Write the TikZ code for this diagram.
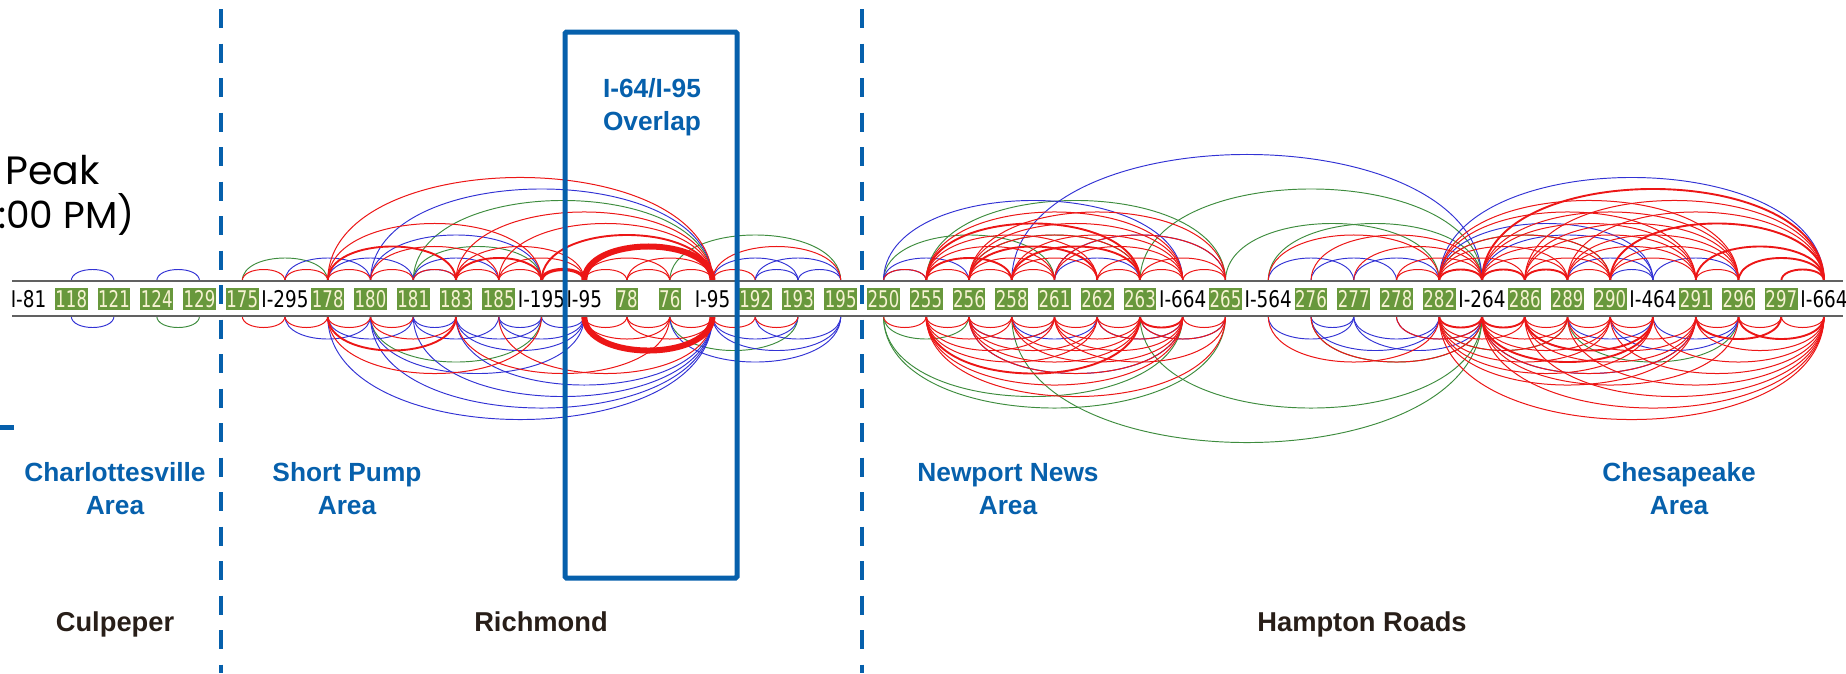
\documentclass[tikz,border=0pt]{standalone}
\usepackage{fontspec}
\setmainfont{Liberation Sans}
\newfontfamily\exitfont[FakeStretch=0.72]{DejaVu Sans}
\newfontfamily\roadfont[FakeStretch=0.8]{DejaVu Sans}
\newfontfamily\peakfont{Poppins}
\usetikzlibrary{positioning}

\definecolor{arcred}{RGB}{236,22,22}
\definecolor{arcblue}{RGB}{50,50,212}
\definecolor{arcgreen}{RGB}{62,140,62}
\definecolor{exitgreen}{RGB}{104,152,60}
\definecolor{exitcream}{RGB}{246,242,210}
\definecolor{dotblue}{RGB}{6,96,172}
\definecolor{citydark}{RGB}{40,30,24}

\begin{document}
\begin{tikzpicture}[x=1pt,y=1pt,
	arcup/.style={out=90,in=90,looseness=0.92},
	arcdn/.style={out=-90,in=-90,looseness=0.92},
	rdA/.style={draw=arcred,line width=1},
	rdB/.style={draw=arcred,line width=1.9},
	rdC/.style={draw=arcred,line width=3.2},
	rdD/.style={draw=arcred,line width=6},
	blA/.style={draw=arcblue,line width=0.95},
	grA/.style={draw=arcgreen,line width=0.95},
	exitlbl/.style={fill=exitgreen,text=exitcream,font=\exitfont\fontsize{23}{23}\selectfont,inner xsep=0.6,inner ysep=0,minimum height=22},
	roadlbl/.style={text=black,font=\roadfont\fontsize{23}{23}\selectfont,inner sep=0},
	bandline/.style={draw=black!62,line width=2.6},
	divider/.style={draw=dotblue,line width=4.5,dash pattern=on 19 off 15.5},
	arealbl/.style={text=dotblue,font=\bfseries\fontsize{26.3}{33}\selectfont,align=center,inner sep=0},
	citylbl/.style={text=citydark,font=\bfseries\fontsize{27.3}{27.3}\selectfont,inner sep=0},
	peaklbl/.style={font=\peakfont\fontsize{39.5}{39.5}\selectfont,inner sep=0}]
	\useasboundingbox (0,0) rectangle (1846,-673);
	
	% arc end points on the two band lines
	\foreach \i in {0,...,42} {
		\coordinate (t\i) at ({28.5+42.75*\i},-281);
		\coordinate (b\i) at ({28.5+42.75*\i},-316);
	}
	
	% arcs above the band
	\foreach \a/\b in {20/24,21/28,26/34,22/26,29/34,28/33,33/37,5/7,9/16,9/12,15/19}
		\draw[grA] (t\a) to[arcup] (t\b);
	\foreach \a/\b in {1/2,3/4,6/8,8/16,8/12,7/9,9/11,16/18,17/19,17/18,18/19,9/10,
		20/21,20/22,20/27,23/34,29/31,30/32,31/33,24/26,24/28,33/42,34/38,36/38,37/38,33/38,38/40}
		\draw[blA] (t\a) to[arcup] (t\b);
	\foreach \a/\b in {5/6,6/7,7/8,8/9,9/10,10/11,11/12,13/14,14/15,15/16,13/15,14/16,16/17,
		7/16,10/16,11/16,10/13,11/13,7/12,16/19,8/11,
		20/21,21/22,22/23,23/24,25/26,26/27,27/28,21/24,21/25,21/27,22/24,22/26,
		22/27,23/25,23/27,24/27,25/27,26/28,22/28,24/28,29/33,30/34,32/34,32/33,31/34,
		36/37,39/40,33/35,33/36,33/37,33/39,33/40,34/36,34/37,34/39,34/40,35/37,35/39,35/40,
		35/42,36/39,36/40,36/42,37/39,37/40}
		\draw[rdA] (t\a) to[arcup] (t\b);
	\foreach \a/\b in {7/10,10/12,12/16,21/23,21/26,23/26,22/25,34/42,37/42,34/35,33/34,35/36,
		40/42,39/42,41/42}
		\draw[rdB] (t\a) to[arcup] (t\b);
	\draw[rdC] (t12) to[arcup] (t13);
	\draw[rdD] (t13) to[arcup] (t16);
	
	% arcs below the band
	\foreach \a/\b in {3/4,8/12,15/18,20/27,20/28,23/34,26/34,20/22,30/34,36/40,33/36}
		\draw[grA] (b\a) to[arcdn] (b\b);
	\foreach \a/\b in {1/2,6/8,7/9,9/11,10/12,11/12,12/13,11/13,10/13,7/16,8/16,9/16,10/16,
		16/18,16/19,17/19,15/19,9/10,8/13,
		23/25,25/27,22/24,26/28,22/27,29/31,30/31,30/33,31/33,31/34,34/39,35/38,37/40,38/40,
		36/38,32/34}
		\draw[blA] (b\a) to[arcdn] (b\b);
	\foreach \a/\b in {5/6,6/7,7/8,8/9,13/14,14/15,15/16,13/15,14/16,16/17,7/12,11/16,8/10,
		17/18,10/15,
		20/21,21/22,22/23,23/24,24/25,25/26,27/28,21/23,21/24,21/25,21/27,22/24,22/25,
		22/26,22/27,23/26,23/27,24/26,24/27,24/28,25/27,26/28,21/28,29/33,30/34,32/34,
		35/36,36/37,37/38,39/40,40/41,41/42,33/35,33/36,33/37,33/38,33/39,33/42,34/36,
		34/37,34/39,34/40,34/42,35/37,35/39,35/42,36/39,36/42,37/39,37/42,39/42,38/42}
		\draw[rdA] (b\a) to[arcdn] (b\b);
	\foreach \a/\b in {7/10,21/26,26/27,33/34,34/35,39/41,40/42,35/38,34/38}
		\draw[rdB] (b\a) to[arcdn] (b\b);
	\draw[rdD] (b13) to[arcdn] (b16);
	
	% the band
	\draw[bandline] (12,-281) -- (1843,-281);
	\draw[bandline] (12,-316) -- (1843,-316);
	\foreach \i/\lab/\kind in {0/I-81/roadlbl,1/118/exitlbl,2/121/exitlbl,3/124/exitlbl,
		4/129/exitlbl,5/175/exitlbl,6/I-295/roadlbl,7/178/exitlbl,8/180/exitlbl,
		9/181/exitlbl,10/183/exitlbl,11/185/exitlbl,12/I-195/roadlbl,13/I-95/roadlbl,
		14/78/exitlbl,15/76/exitlbl,16/I-95/roadlbl,17/192/exitlbl,18/193/exitlbl,
		19/195/exitlbl,20/250/exitlbl,21/255/exitlbl,22/256/exitlbl,23/258/exitlbl,
		24/261/exitlbl,25/262/exitlbl,26/263/exitlbl,27/I-664/roadlbl,28/265/exitlbl,
		29/I-564/roadlbl,30/276/exitlbl,31/277/exitlbl,32/278/exitlbl,33/282/exitlbl,
		34/I-264/roadlbl,35/286/exitlbl,36/289/exitlbl,37/290/exitlbl,38/I-464/roadlbl,
		39/291/exitlbl,40/296/exitlbl,41/297/exitlbl,42/I-664/roadlbl}
		\node[\kind] (n\i) at ({28.5+42.75*\i},-299) {\lab};
	
	% region dividers and the overlap box
	\draw[divider] (221,-9) -- (221,-673);
	\draw[divider] (862,-9) -- (862,-673);
	\draw[draw=dotblue,line width=5,rounded corners=1.5] (565,-32) rectangle (737,-578);
	\draw[draw=dotblue,line width=5] (0,-427) -- (14,-427);
	
	% texts
	\node[peaklbl,anchor=base west] (peak) at (5,-184) {Peak};
	\node[peaklbl,anchor=base west,font=\peakfont\fontsize{37.5}{37.5}\selectfont] (pm) at (-2,-228) {:00 PM)};
	\node[arealbl] (overlap) at (652,-107) {I-64/I-95\\Overlap};
	\node[arealbl] (cville) at (115,-489) {Charlottesville\\Area};
	\node[arealbl] (shortpump) at (347,-489) {Short Pump\\Area};
	\node[arealbl] (newport) at (1008,-489) {Newport News\\Area};
	\node[arealbl] (chesapeake) at (1679,-489) {Chesapeake\\Area};
	\node[citylbl,anchor=base] (culpeper) at (115,-631) {Culpeper};
	\node[citylbl,anchor=base] (richmond) at (541,-631) {Richmond};
	\node[citylbl,anchor=base] (hampton) at (1362,-631) {Hampton Roads};
\end{tikzpicture}
\end{document}
